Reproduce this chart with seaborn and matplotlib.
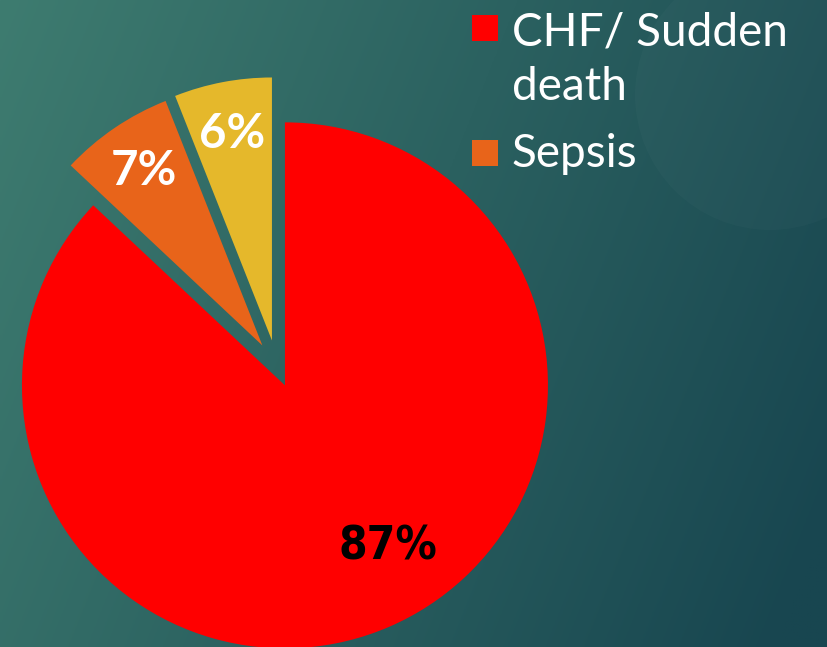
import numpy as np
import matplotlib.pyplot as plt
import seaborn as sns
from matplotlib.patches import Circle, Rectangle

# data
causes = ["CHF/ Sudden death", "Sepsis", "Other"]
shares = [87, 7, 6]
# only the first two legend entries are visible on the slide
legend_labels = ["CHF/ Sudden\ndeath", "Sepsis"]

slice_colors = ["#ff0000", "#e8641a", "#e5b82b"]
label_colors = ["black", "white", "white"]

sns.set_theme(style="white")

W, H = 828, 647
fig = plt.figure(figsize=(W / 100, H / 100), dpi=100)
ax = fig.add_axes([0, 0, 1, 1])

# teal gradient background, lighter at the left
X, Y = np.meshgrid(np.linspace(0, 1, 300), np.linspace(0, 1, 240))
t = np.clip(0.8 * X + 0.25 * Y, 0, 1)
c_left = np.array([62, 124, 112]) / 255
c_right = np.array([24, 70, 80]) / 255
img = c_left + (c_right - c_left) * t[..., None]
ax.imshow(img, extent=(0, W, 0, H), origin="upper", aspect="auto", zorder=0)
ax.add_patch(Circle((770, H - 95), 135, color="white", alpha=0.02, lw=0, zorder=1))

wedges, texts, autotexts = ax.pie(
    shares,
    colors=slice_colors,
    startangle=90,
    counterclock=False,
    explode=[20, 26, 27],
    center=(277, H - 367),
    radius=263,
    autopct=lambda p: f"{p:.0f}%",
    pctdistance=0.8,
    wedgeprops=dict(linewidth=0),
)
for w in wedges:
    w.set_zorder(2)

for txt, col in zip(autotexts, label_colors):
    txt.set_color(col)
    txt.set_zorder(3)
    txt.set_fontsize(34)
    txt.set_fontweight("bold")
    txt.set_family("Lato")
autotexts[0].set_family("DejaVu Sans")
autotexts[0].set_stretch("condensed")
autotexts[0].set_fontsize(33)
autotexts[0].set_position((388, H - 547))

# legend drawn by hand so the swatch sits on the first text line
legend_top = [15, 140]
legend_base = [100, 167]  # baseline of the last line of each label
for i, lab in enumerate(legend_labels):
    ax.add_patch(Rectangle((472, H - legend_top[i] - 26), 26, 26,
                           color=slice_colors[i], lw=0, zorder=3))
    ax.text(512, H - legend_base[i], lab, color="white", fontsize=33,
            family="Lato", va="baseline", ha="left", linespacing=1.37, zorder=3)

ax.set_xlim(0, W)
ax.set_ylim(0, H)
ax.set_aspect("auto")
ax.axis("off")

fig.savefig("out.png", dpi=100)
